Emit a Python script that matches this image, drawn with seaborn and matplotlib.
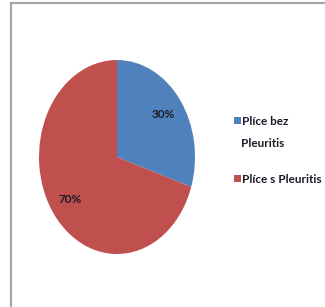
import matplotlib
matplotlib.use("Agg")
import matplotlib.pyplot as plt
import seaborn as sns
from matplotlib.patches import Rectangle

categories = ["Plíce bez\nPleuritis", "Plíce s Pleuritis"]
values = [30, 70]
colors = ["#4F81BD", "#C0504D"]

sns.set_theme(style="white")
plt.rcParams['font.family'] = ['Lato', 'DejaVu Sans']

W, H = 325, 307
fig = plt.figure(figsize=(W / 100, H / 100), dpi=100)
fig.patch.set_facecolor("white")

# frame border
fig.patches.append(Rectangle((10.5 / W, -0.2), 1.0, (H - 2.5) / H + 0.2,
                             transform=fig.transFigure, fill=False,
                             edgecolor="#a6a6a6", linewidth=1.6))

cx, cy, rx, ry = 117, 157, 78, 97
ax = fig.add_axes([(cx - rx) / W, (H - cy - ry) / H, 2 * rx / W, 2 * ry / H])
wedges, texts, autotexts = ax.pie(values, colors=colors, startangle=90, counterclock=False,
                                  autopct="%d%%", pctdistance=0.74,
                                  textprops=dict(fontsize=8.5, color="#1c1c28", fontweight="bold"),
                                  wedgeprops=dict(linewidth=0))
ax.set_xlim(-1, 1)
ax.set_ylim(-1, 1)
ax.set_aspect("auto")
ax.axis("off")

# legend drawn manually (square aligned with first line of each label)
first_baselines = [125, 183]
line_gap = 22
for cat, col, yb in zip(categories, colors, first_baselines):
    fig.patches.append(Rectangle((233.5 / W, 1 - (yb - 1) / H), 7 / W, 7.5 / H,
                                 transform=fig.transFigure, facecolor=col,
                                 edgecolor="none"))
    for i, line in enumerate(cat.split("\n")):
        fig.text(241.5 / W, 1 - (yb + i * line_gap) / H, line, fontsize=8.5,
                 fontweight="bold", color="#1c1c28", ha="left", va="baseline")

fig.savefig("out.png", dpi=100, facecolor="white")
